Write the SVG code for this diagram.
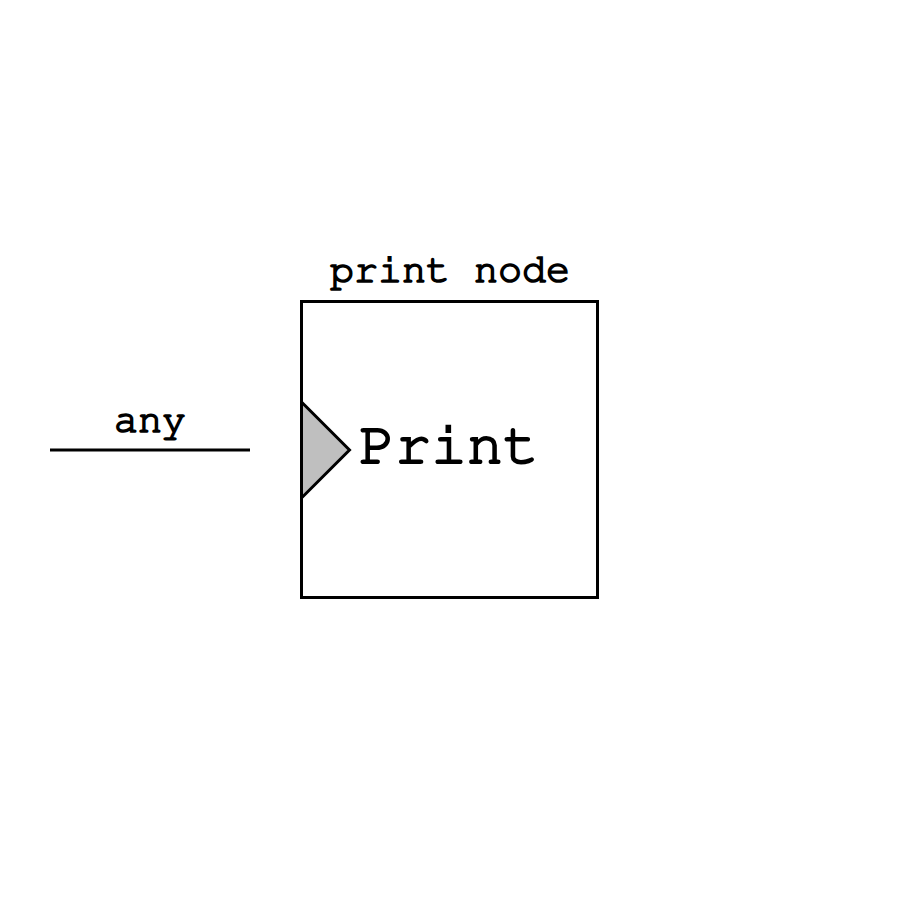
<svg xmlns="http://www.w3.org/2000/svg" width="900" height="900" viewBox="0 0 900 900">
<style>
.t{font-family:"FreeMono","Nimbus Mono PS",Courier,"Liberation Mono",monospace;font-weight:normal;fill:#000;stroke:#000;stroke-width:1.7;text-anchor:middle}
.s{stroke:#000;stroke-width:3}
</style>
<rect width="900" height="900" fill="#fff"/>
<g id="connectors">
<line class="s" x1="50" y1="450" x2="250" y2="450"/>
<text class="t" x="150" y="432" font-size="40">any</text>
</g>
<g id="print-node">
<text class="t" x="450" y="282" font-size="40">print node</text>
<rect class="s" x="301.5" y="301.5" width="296" height="296" fill="#fff"/>
<polygon class="s" points="301.5,402 349.5,450 301.5,498" fill="#bfbfbf"/>
<text class="t" x="449" y="463" font-size="60" style="stroke-width:2.1">Print</text>
</g>
</svg>
